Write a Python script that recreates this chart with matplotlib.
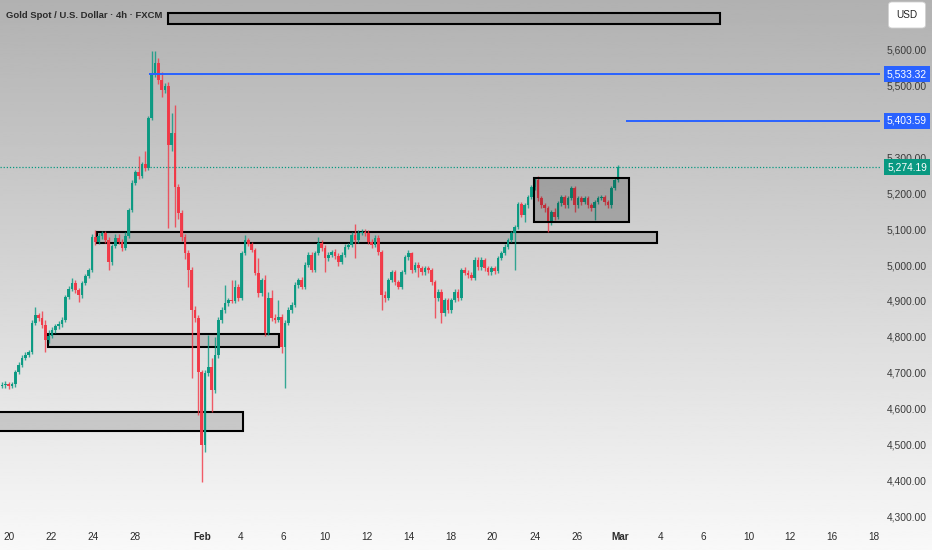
import numpy as np
import matplotlib
matplotlib.use("Agg")
import matplotlib.pyplot as plt
import matplotlib.transforms as mtransforms
from matplotlib.patches import Rectangle

# 4h candles, open of each bar = previous close
first_open = 4667
closes = [
    4669, 4672, 4667, 4672, 4706, 4725, 4744, 4753, 4761, 4842,
    4864, 4856, 4836, 4794, 4806, 4822, 4833, 4839, 4850, 4914,
    4936, 4953, 4933, 4919, 4953, 4972, 4989, 5081, 5067, 5083,
    5092, 5072, 5011, 5056, 5078, 5067, 5050, 5083, 5156, 5231,
    5261, 5250, 5283, 5272, 5411, 5533, 5564, 5517, 5489, 5500,
    5336, 5369, 5219, 5147, 5081, 5036, 4989, 4878, 4856, 4706,
    4503, 4703, 4719, 4656, 4753, 4850, 4878, 4897, 4906, 4903,
    4942, 4911, 5036, 5072, 5061, 5044, 4981, 4925, 4961, 4814,
    4911, 4856, 4850, 4858, 4775, 4842, 4878, 4892, 4947, 4961,
    4942, 5003, 5031, 4989, 5036, 5064, 5050, 5022, 5031, 5039,
    5028, 5011, 5031, 5053, 5058, 5086, 5072, 5092, 5094, 5092,
    5067, 5058, 5078, 5039, 4919, 4911, 4961, 4983, 4956, 4942,
    4983, 5025, 5036, 4989, 5003, 4994, 4983, 4994, 4989, 4956,
    4911, 4928, 4869, 4906, 4878, 4906, 4928, 4911, 4989, 4981,
    4975, 4967, 5017, 4997, 5017, 4994, 4983, 4994, 4986, 5022,
    5036, 5053, 5072, 5092, 5108, 5172, 5142, 5169, 5192, 5219,
    5239, 5189, 5169, 5161, 5122, 5150, 5136, 5175, 5192, 5169,
    5189, 5217, 5169, 5189, 5178, 5189, 5169, 5161, 5178, 5189,
    5192, 5178, 5169, 5217, 5239, 5274.19,
]
highs = [
    4678, 4680, 4679, 4678, 4712, 4733, 4752, 4760, 4768, 4850,
    4885, 4870, 4875, 4850, 4822, 4830, 4840, 4848, 4858, 4920,
    4945, 4968, 4960, 4940, 4958, 4978, 4995, 5090, 5100, 5092,
    5098, 5097, 5080, 5062, 5090, 5088, 5075, 5095, 5162, 5238,
    5268, 5305, 5290, 5320, 5418, 5597, 5597, 5578, 5540, 5508,
    5512, 5425, 5447, 5228, 5156, 5090, 5045, 4998, 4890, 4865,
    4712, 4710, 4808, 4745, 4803, 4858, 4886, 4947, 4912, 4961,
    4961, 4950, 5042, 5086, 5078, 5068, 5050, 5022, 4968, 4975,
    4928, 4933, 4866, 4906, 4866, 4850, 4885, 4900, 4955, 4968,
    4970, 5010, 5038, 5040, 5042, 5081, 5072, 5058, 5040, 5045,
    5046, 5035, 5038, 5060, 5065, 5094, 5117, 5100, 5102, 5102,
    5100, 5075, 5085, 5085, 5045, 4930, 4968, 4990, 4990, 4962,
    4990, 5030, 5044, 5040, 5010, 5010, 5000, 5000, 5000, 4995,
    4962, 4936, 4935, 4912, 4912, 4912, 4935, 4936, 4995, 4998,
    4990, 4982, 5024, 5024, 5024, 5022, 5000, 5000, 5000, 5028,
    5042, 5060, 5078, 5098, 5115, 5178, 5178, 5175, 5198, 5225,
    5248, 5250, 5195, 5175, 5168, 5156, 5160, 5180, 5198, 5198,
    5195, 5222, 5222, 5195, 5195, 5195, 5195, 5175, 5184, 5195,
    5198, 5198, 5184, 5222, 5246, 5281,
]
lows = [
    4660, 4662, 4658, 4660, 4665, 4700, 4720, 4738, 4748, 4755,
    4836, 4848, 4828, 4760, 4786, 4800, 4815, 4826, 4830, 4845,
    4908, 4930, 4925, 4900, 4912, 4946, 4966, 4983, 5058, 5060,
    5075, 5064, 4988, 5004, 5050, 5060, 5042, 5044, 5078, 5150,
    5225, 5243, 5244, 5265, 5266, 5405, 5525, 5506, 5470, 5480,
    5106, 5320, 5108, 5130, 5070, 5020, 4942, 4689, 4845, 4586,
    4400, 4483, 4695, 4594, 4648, 4745, 4842, 4870, 4890, 4896,
    4898, 4904, 4905, 5030, 5055, 5038, 4975, 4915, 4918, 4805,
    4808, 4848, 4842, 4845, 4758, 4661, 4835, 4870, 4886, 4940,
    4935, 4936, 4996, 4982, 4982, 5030, 5042, 4983, 5015, 5024,
    5020, 5000, 5005, 5025, 5046, 5052, 5022, 5065, 5085, 5084,
    5060, 5050, 5052, 5030, 4878, 4900, 4905, 4955, 4948, 4935,
    4936, 4978, 5018, 4980, 4982, 4970, 4976, 4976, 4980, 4948,
    4856, 4904, 4842, 4860, 4870, 4870, 4900, 4904, 4905, 4975,
    4968, 4960, 4960, 4990, 4990, 4986, 4975, 4976, 4978, 4980,
    5016, 5030, 5046, 5066, 4990, 5102, 5135, 5122, 5162, 5186,
    5212, 5180, 5160, 5150, 5094, 5115, 5128, 5130, 5168, 5160,
    5162, 5182, 5150, 5162, 5170, 5172, 5160, 5152, 5128, 5172,
    5182, 5170, 5160, 5162, 5210, 5232,
]

# drawn zones: (first bar, last bar, low, high)
zones = [
    (49.8, 215.6, 5672, 5703),
    (28.5, 196.7, 5064, 5094),
    (13.8, 83.2, 4775, 4811),
    (-5.0, 72.4, 4542, 4594),
]
range_box = (159.8, 188.3, 5122, 5244)

# horizontal levels: (start bar, price)
levels = [(44.1, 5533.32), (187.4, 5403.59)]
last_price = 5274.19

price_ticks = [5600, 5500, 5400, 5300, 5200, 5100, 5000, 4900, 4800, 4700, 4600, 4500, 4400, 4300]
date_pos = [2.1, 14.7, 27.3, 39.9, 60.1, 71.8, 84.4, 97.0, 109.6, 122.2, 134.8,
            147.1, 160.1, 172.7, 185.6, 197.9, 210.5, 224.3, 236.6, 249.2, 261.9]
date_labels = ["20", "22", "24", "28", "Feb", "4", "6", "10", "12", "14", "18",
               "20", "24", "26", "Mar", "4", "6", "10", "12", "16", "18"]

UP = "#089981"
DOWN = "#f23645"
BLUE = "#2962ff"
font = ["Liberation Sans", "DejaVu Sans"]

W, H = 932, 550
fig = plt.figure(figsize=(W / 100, H / 100), dpi=100)

# background gradient over the whole picture
bg = fig.add_axes([0, 0, 1, 1])
grad = np.linspace(0.695, 0.975, 256).reshape(-1, 1)
bg.imshow(grad, aspect="auto", cmap="gray", vmin=0, vmax=1, extent=[0, 1, 0, 1], origin="upper")
bg.axis("off")

plot_w = 880 / W
ax = fig.add_axes([0, 0, plot_w, 1])
ax.patch.set_alpha(0)
ymin, ymax = 4211.1, 5738.9
ax.set_ylim(ymin, ymax)
ax.set_xlim(-0.6, 263.7)
ax.axis("off")

closes = np.array(closes, dtype=float)
opens = np.concatenate([[first_open], closes[:-1]])
highs = np.array(highs, dtype=float)
lows = np.array(lows, dtype=float)
idx = np.arange(len(closes))
colors = np.where(closes >= opens, UP, DOWN)

ax.vlines(idx, lows, highs, colors=colors, lw=1.0, alpha=0.8, zorder=3)
body = closes - opens
body = np.where(np.abs(body) < 2, 2, body)
ax.bar(idx, body, bottom=opens, width=0.8, color=colors, alpha=0.95, zorder=4, linewidth=0)

for x0, x1, lo, hi in zones:
    ax.add_patch(Rectangle((x0, lo), x1 - x0, hi - lo, facecolor=(0, 0, 0, 0.14),
                           edgecolor="black", lw=1.5, zorder=2))
x0, x1, lo, hi = range_box
ax.add_patch(Rectangle((x0, lo), x1 - x0, hi - lo, facecolor=(0, 0, 0, 0.2),
                       edgecolor="black", lw=1.5, zorder=5))

for start, p in levels:
    ax.plot([start, 263.7], [p, p], color=BLUE, lw=1.4, zorder=6, solid_capstyle="butt")
ax.axhline(last_price, color=UP, lw=0.9, ls=(0, (1, 1.5)), zorder=1)

# date labels along the bottom
trans = mtransforms.blended_transform_factory(ax.transData, ax.transAxes)
for pos, lab in zip(date_pos, date_labels):
    bold = lab in ("Feb", "Mar")
    ax.text(pos, 1 - 537 / H, lab, transform=trans, ha="center", va="center",
            fontsize=7.2, family=font, color="#2b2b2b",
            fontweight="bold" if bold else "normal")

# price scale
sc = fig.add_axes([plot_w, 0, 1 - plot_w, 1])
sc.patch.set_alpha(0)
sc.set_ylim(ymin, ymax)
sc.set_xlim(0, 1)
sc.axis("off")
for p in price_ticks:
    sc.text(0.52, p, f"{p:,.2f}", ha="center", va="center", fontsize=7.4,
            family=font, color="#3a3a3a", zorder=2)
for _, p in levels:
    sc.text(0.52, p, f"{p:,.2f}", ha="center", va="center", fontsize=7.4,
            family=font, color="white", zorder=5,
            bbox=dict(boxstyle="square,pad=0.3", fc=BLUE, ec="none"))
sc.text(0.52, last_price, f"{last_price:,.2f}", ha="center", va="center", fontsize=7.4,
        family=font, color="white", zorder=5,
        bbox=dict(boxstyle="square,pad=0.3", fc=UP, ec="none"))

fig.text(907 / W, 1 - 15 / H, "USD", ha="center", va="center", fontsize=7.2,
         family=font, color="#222222",
         bbox=dict(boxstyle="round,pad=0.8,rounding_size=0.35", fc="white", ec="#d0d0d0", lw=0.6))

fig.text(6 / W, 1 - 16 / H, "Gold Spot / U.S. Dollar \u00b7 4h \u00b7 FXCM", ha="left",
         va="center", fontsize=6.8, fontweight="bold", family=font, color="#2a2a2a")

fig.savefig("out.png", dpi=100)
